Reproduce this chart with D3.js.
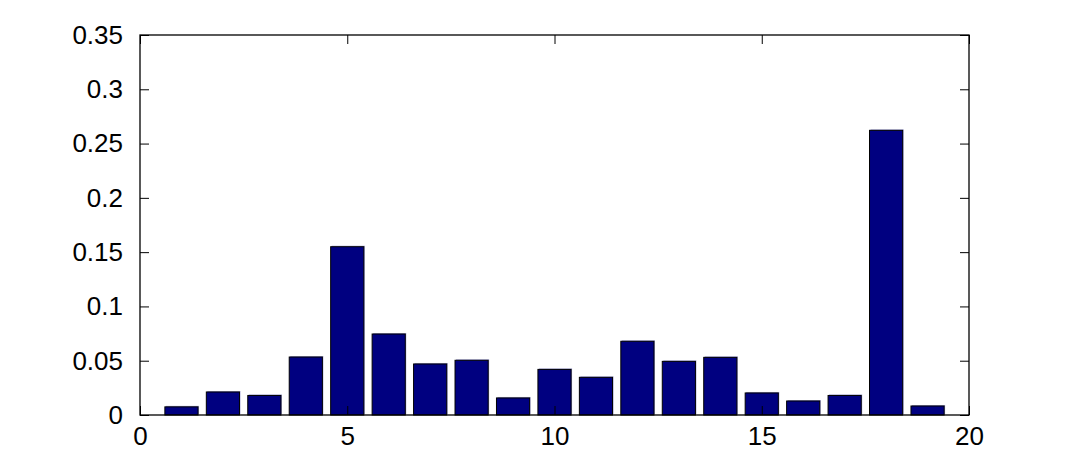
<!DOCTYPE html>
<html><head><meta charset="utf-8">
<script src="https://cdn.jsdelivr.net/npm/d3@7/dist/d3.min.js"></script>
<style>body{margin:0;background:#fff}svg{display:block}text{font-family:"Liberation Sans",Arial,sans-serif}</style>
</head><body>
<script>
const categories = [1,2,3,4,5,6,7,8,9,10,11,12,13,14,15,16,17,18,19];
const values = [0.0075,0.0212,0.018,0.0534,0.155,0.0746,0.047,0.0504,0.0157,0.042,0.0347,0.0679,0.0494,0.0531,0.0203,0.0129,0.018,0.2622,0.0083];
const xTicks = [0,5,10,15,20];
const yTicks = [0,0.05,0.1,0.15,0.2,0.25,0.3,0.35];

const W=1072,H=466;
const m={left:140,top:35,right:W-969,bottom:H-415};
const svg=d3.select("body").append("svg").attr("width",W).attr("height",H);
const x=d3.scaleLinear().domain([0,20]).range([m.left,W-m.right]);
const y=d3.scaleLinear().domain([0,0.35]).range([H-m.bottom,m.top]);
const bw = x(0.8)-x(0);

const g=svg.append("g");
// shadow
g.selectAll("rect.sh").data(values).join("rect").attr("class","sh")
 .attr("x",(d,i)=>x(categories[i])-bw/2+1).attr("y",d=>y(d)-1)
 .attr("width",bw).attr("height",d=>y(0)-y(d))
 .attr("fill","#a8a8d8");
g.selectAll("rect.bar").data(values).join("rect").attr("class","bar")
 .attr("x",(d,i)=>x(categories[i])-bw/2).attr("y",d=>y(d))
 .attr("width",bw).attr("height",d=>y(0)-y(d))
 .attr("fill","#000080").attr("stroke","#000").attr("stroke-width",1);

const tl=9;
const fs="26px";
const ax=d3.axisLeft(y).tickValues(yTicks).tickSizeInner(-tl).tickSizeOuter(0).tickPadding(17).tickFormat(d=>d===0?"0":String(+d.toFixed(2)));
const gl=svg.append("g").attr("transform",`translate(${m.left},0)`).call(ax);
const ar=d3.axisRight(y).tickValues(yTicks).tickSizeInner(-tl).tickSizeOuter(0).tickFormat("");
const gr=svg.append("g").attr("transform",`translate(${W-m.right},0)`).call(ar);
const bx=d3.axisBottom(x).tickValues(xTicks).tickSizeInner(-tl).tickSizeOuter(0).tickPadding(12).tickFormat(d3.format("d"));
const gb=svg.append("g").attr("transform",`translate(0,${H-m.bottom})`).call(bx);
const tx=d3.axisTop(x).tickValues(xTicks).tickSizeInner(-tl).tickSizeOuter(0).tickFormat("");
const gt=svg.append("g").attr("transform",`translate(0,${m.top})`).call(tx);
[gl,gr,gb,gt].forEach(a=>{a.select(".domain").remove();a.selectAll("line").attr("stroke","#000");a.selectAll("text").attr("fill","#000").style("font-size",fs).style("font-family","'Liberation Sans',Arial,sans-serif");});
svg.append("rect").attr("x",m.left).attr("y",m.top).attr("width",x(20)-x(0)).attr("height",y(0)-y(0.35))
 .attr("fill","none").attr("stroke","#000").attr("stroke-width",1.3);
</script>
</body></html>
